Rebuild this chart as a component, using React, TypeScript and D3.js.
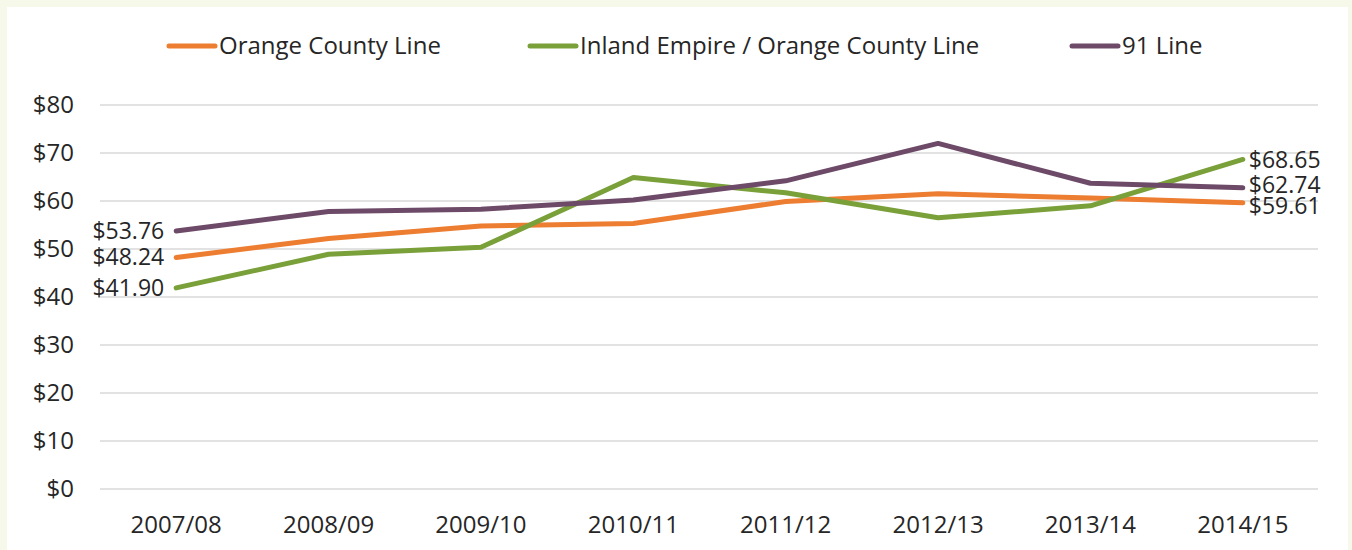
import React, { useEffect, useRef } from 'react';
import * as d3 from 'd3';

// fiscal years on the x axis
const years = ['2007/08', '2008/09', '2009/10', '2010/11', '2011/12', '2012/13', '2013/14', '2014/15'];

// cost per rider
const orangeCounty = [48.24, 52.2, 54.8, 55.3, 59.9, 61.5, 60.6, 59.61];
const inlandEmpire = [41.9, 48.9, 50.35, 64.9, 61.7, 56.5, 59.0, 68.65];
const line91 = [53.76, 57.8, 58.3, 60.2, 64.2, 72.0, 63.7, 62.74];

const yTicks = [0, 10, 20, 30, 40, 50, 60, 70, 80];

const seriesNames = ['Orange County Line', 'Inland Empire / Orange County Line', '91 Line'];
const seriesColors = ['#ED7D31', '#7AA03A', '#6D4A68'];

const App = () => {
  const svgRef = useRef<SVGSVGElement>(null);

  useEffect(() => {
    const svg = d3.select(svgRef.current);
    svg.selectAll('*').remove();

    const width = 1352;
    const height = 550;
    const font = '"Open Sans", sans-serif';
    const textColor = '#262626';

    const series = [orangeCounty, inlandEmpire, line91].map((values, i) => ({
      name: seriesNames[i],
      color: seriesColors[i],
      values,
    }));

    // cream page with white panel
    svg.append('rect').attr('width', width).attr('height', height).attr('fill', '#F6F8EA');
    svg.append('rect')
      .attr('x', 7).attr('y', 7)
      .attr('width', 1341).attr('height', height)
      .attr('fill', '#fff');

    const x = d3.scaleBand().domain(years).range([100, 1319]);
    const y = d3.scaleLinear().domain([0, 80]).range([489, 105]);
    const cx = (d: string) => (x(d) ?? 0) + x.bandwidth() / 2;

    // gridlines
    svg.append('g')
      .selectAll('line')
      .data(yTicks)
      .enter().append('line')
      .attr('x1', 100).attr('x2', 1318)
      .attr('y1', d => y(d)).attr('y2', d => y(d))
      .attr('stroke', '#D9D9D9')
      .attr('stroke-width', 1.5);

    // y tick labels
    svg.append('g')
      .selectAll('text')
      .data(yTicks)
      .enter().append('text')
      .attr('x', 74)
      .attr('y', d => y(d))
      .attr('dy', '0.35em')
      .attr('text-anchor', 'end')
      .attr('font-family', font)
      .attr('font-size', 24)
      .attr('fill', textColor)
      .text(d => `$${d}`);

    // x tick labels
    svg.append('g')
      .selectAll('text')
      .data(years)
      .enter().append('text')
      .attr('x', d => cx(d))
      .attr('y', 533)
      .attr('text-anchor', 'middle')
      .attr('font-family', font)
      .attr('font-size', 24)
      .attr('fill', textColor)
      .text(d => d);

    // lines
    const line = d3.line<number>()
      .x((_, i) => cx(years[i]))
      .y(d => y(d));

    svg.append('g')
      .selectAll('path')
      .data(series)
      .enter().append('path')
      .attr('d', d => line(d.values))
      .attr('fill', 'none')
      .attr('stroke', d => d.color)
      .attr('stroke-width', 5)
      .attr('stroke-linejoin', 'round')
      .attr('stroke-linecap', 'round');

    // end labels (small vertical nudges so the right ones don't collide)
    const rightNudge = [3, 0, -3];
    series.forEach((s, i) => {
      const first = s.values[0];
      const last = s.values[s.values.length - 1];
      svg.append('text')
        .attr('x', cx(years[0]) - 12)
        .attr('y', y(first))
        .attr('dy', '0.35em')
        .attr('text-anchor', 'end')
        .attr('font-family', font)
        .attr('font-size', 23)
        .attr('fill', textColor)
        .text(`$${first.toFixed(2)}`);
      svg.append('text')
        .attr('x', cx(years[years.length - 1]) + 6)
        .attr('y', y(last) + rightNudge[i])
        .attr('dy', '0.35em')
        .attr('text-anchor', 'start')
        .attr('font-family', font)
        .attr('font-size', 23)
        .attr('fill', textColor)
        .text(`$${last.toFixed(2)}`);
    });

    // legend
    const legendX = [167, 528, 1070];
    const legend = svg.append('g')
      .selectAll('g')
      .data(series)
      .enter().append('g')
      .attr('transform', (_, i) => `translate(${legendX[i]},46)`);

    legend.append('line')
      .attr('x1', 2).attr('x2', 48)
      .attr('stroke', d => d.color)
      .attr('stroke-width', 5)
      .attr('stroke-linecap', 'round');

    legend.append('text')
      .attr('x', 52)
      .attr('dy', '0.35em')
      .attr('font-family', font)
      .attr('font-size', 24)
      .attr('fill', textColor)
      .text(d => d.name);
  }, []);

  return (
    <div style={{ position: 'absolute', left: 0, top: 0, width: 1352, height: 550 }}>
      <svg ref={svgRef} width={1352} height={550} style={{ display: 'block' }}></svg>
    </div>
  );
};

export default App;
